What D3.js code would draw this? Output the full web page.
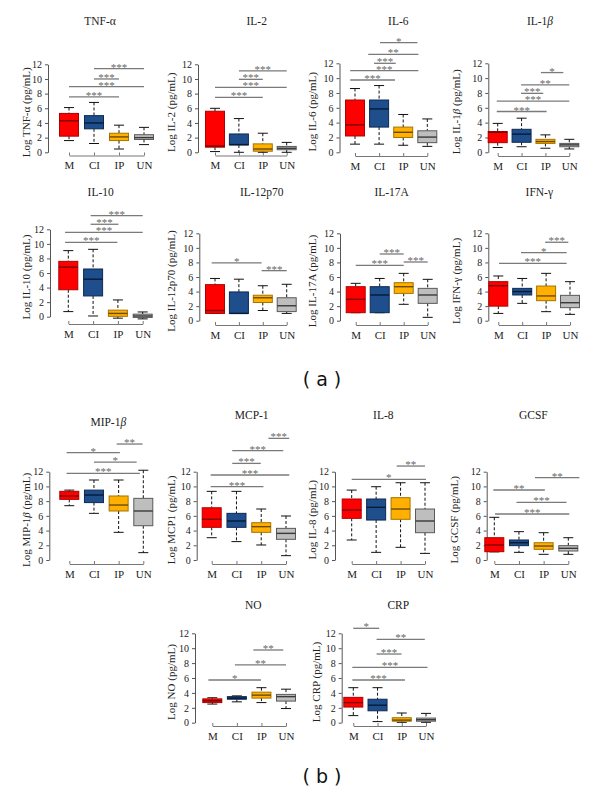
<!DOCTYPE html>
<html><head><meta charset="utf-8">
<script src="https://cdn.jsdelivr.net/npm/d3@7"></script>
<style>body{margin:0;background:#fff}</style>
</head><body><svg id="c" width="600" height="794"></svg>
<script>
// ---------------- DATA ----------------
const categories = ["M", "CI", "IP", "UN"];
const yTicks = [0, 2, 4, 6, 8, 10, 12];
const titles = ["TNF-α", "IL-2", "IL-6", "IL-1β", "IL-10", "IL-12p70", "IL-17A", "IFN-γ",
  "MIP-1β", "MCP-1", "IL-8", "GCSF", "NO", "CRP"];
const yLabels = ["Log TNF-α (pg/mL)", "Log IL-2 (pg/mL)", "Log IL-6 (pg/mL)", "Log IL-1β (pg/mL)",
  "Log IL-10 (pg/mL)", "Log IL-12p70 (pg/mL)", "Log IL-17A (pg/mL)", "Log IFN-γ (pg/mL)",
  "Log MIP-1β (pg/mL)", "Log MCP1 (pg/mL)", "Log IL-8 (pg/mL)", "Log GCSF (pg/mL)",
  "Log NO (pg/mL)", "Log CRP (pg/mL)"];
// [min, q1, median, q3, max] per group M, CI, IP, UN
const boxStats = [
  [[1.6,2.2,4.3,5.3,6.1],[1.2,3.2,4.0,5.0,6.8],[0.45,1.6,2.1,2.6,3.7],[1.05,1.75,2.0,2.4,3.4]],
  [[0.1,0.7,0.85,5.6,6.0],[0.0,1.0,1.05,2.5,4.6],[0.0,0.15,0.45,1.15,2.6],[0.0,0.35,0.55,0.8,1.35]],
  [[1.1,2.2,3.7,7.05,8.6],[1.1,3.4,5.85,7.05,9.0],[0.95,2.0,2.7,3.4,5.1],[0.8,1.3,2.05,2.9,4.5]],
  [[0.65,1.3,2.7,2.8,3.9],[0.75,1.35,2.45,3.1,4.6],[0.55,1.2,1.45,1.75,2.35],[0.45,0.75,1.0,1.2,1.75]],
  [[0.7,3.7,6.8,7.6,9.07],[0.1,2.85,5.15,6.55,9.25],[-0.2,0.05,0.45,0.9,2.3],[-0.3,-0.1,0.1,0.35,0.65]],
  [[1.0,1.0,1.4,4.95,5.8],[1.0,1.0,1.0,3.95,5.7],[1.4,2.5,3.15,3.5,4.8],[1.0,1.25,2.05,3.15,5.0]],
  [[1.1,1.1,2.93,4.67,5.13],[1.1,1.1,3.53,4.67,5.8],[2.25,3.75,4.67,5.22,6.5],[0.46,2.38,3.53,4.44,5.68]],
  [[1.0,2.0,4.8,5.36,6.14],[2.38,3.53,4.0,4.44,5.8],[1.24,2.75,3.4,4.76,6.5],[0.87,1.79,2.47,3.48,5.36]],
  [[7.38,8.24,8.7,9.33,9.5],[6.34,7.8,8.83,9.5,10.87],[3.76,6.66,7.47,8.7,10.87],[1.0,4.66,6.66,8.38,12.2]],
  [[3.03,4.44,5.53,7.1,9.33],[2.5,4.44,5.3,6.34,9.33],[2.04,3.76,4.53,5.07,6.93],[0.59,2.81,3.62,4.3,5.98]],
  [[2.72,5.66,6.79,8.29,9.5],[1.04,5.43,7.16,8.29,9.96],[1.72,5.53,6.93,8.47,10.5],[0.9,3.71,5.3,6.93,10.5]],
  [[1.1,1.13,2.04,3.03,5.8],[1.04,1.95,2.35,2.72,3.85],[0.77,1.45,1.9,2.35,3.71],[0.77,1.22,1.59,1.95,3.03]],
  [[2.5,2.7,2.95,3.2,3.35],[2.8,3.15,3.3,3.5,3.6],[2.7,3.3,3.7,4.1,4.7],[1.9,2.9,3.5,3.8,4.5]],
  [[0.95,2.1,2.7,3.4,4.7],[0.15,1.6,2.35,3.15,4.7],[0.05,0.2,0.35,0.67,1.3],[0.05,0.2,0.4,0.62,1.25]]
];
// significance bars: [from group index, to group index, value, label]
const sigBars = [
  [[1,3,11.4,"***"],[1,2,10.0,"***"],[0,3,8.95,"***"],[0,2,7.55,"***"]],
  [[1,3,11.1,"***"],[1,2,9.95,"***"],[0,3,8.85,"***"],[0,2,7.5,"***"]],
  [[1.04,2.59,14.8,"*"],[0.55,2.63,13.2,"**"],[0.79,1.69,12.0,"***"],[-0.2,2.63,11.0,"***"],[-0.2,1.66,9.75,"***"]],
  [[1.81,2.75,10.75,"*"],[0.98,3.0,9.1,"**"],[0.98,1.91,7.95,"***"],[-0.04,3.0,6.9,"***"],[-0.04,2.05,5.5,"***"]],
  [[0.9,3.0,13.88,"***"],[0.9,2.02,12.69,"***"],[-0.13,3.0,11.59,"***"],[-0.13,1.98,10.2,"***"]],
  [[-0.14,1.95,7.95,"*"],[1.95,3.0,6.87,"***"]],
  [[1,2,9.16,"***"],[0,2,7.6,"***"],[2,3,8.06,"***"]],
  [[1.96,2.93,10.77,"***"],[0.95,2.86,9.35,"*"],[0.03,2.86,7.88,"***"]],
  [[1.92,2.97,15.76,"**"],[-0.11,2.05,14.58,"*"],[1.0,2.73,13.3,"*"],[-0.11,2.86,11.78,"***"]],
  [[2.29,3.13,16.53,"***"],[0.83,2.89,14.86,"***"],[0.83,1.98,13.13,"***"],[-0.04,3.13,11.55,"***"],[-0.04,2.09,9.96,"***"]],
  [[1.84,3.0,12.77,"**"],[0,3.04,10.96,"*"]],
  [[1.65,3.45,11.19,"**"],[-0.04,2.05,9.51,"**"],[0.9,2.93,7.83,"***"],[0.03,3.04,6.25,"***"]],
  [[1.67,2.89,9.76,"**"],[0.92,3.0,7.75,"**"],[-0.16,1.98,5.73,"*"]],
  [[0,1.07,12.67,"*"],[0.96,2.95,11.19,"**"],[0.96,1.99,9.22,"***"],[-0.04,3.06,7.43,"***"],[-0.04,2.13,5.73,"***"]]
];
const panelLetters = ["( a )", "( b )"];

// ---------------- LAYOUT / STYLE ----------------
const layout = [
  {ax:48, c0:69, c3:144, y12:64.3, y0:152.3, xa:155.5, tx:100, ty:25, lx:30},
  {ax:198, c0:215, c3:286.7, y12:64.3, y0:152.3, xa:155.5, tx:256.7, ty:25, lx:175},
  {ax:339.5, c0:355, c3:427.3, y12:63.3, y0:152.3, xa:156, tx:398.3, ty:25, lx:316},
  {ax:488.3, c0:497.7, c3:569.3, y12:63.3, y0:152.3, xa:156, tx:540, ty:25, lx:460},
  {ax:50, c0:68.3, c3:142.7, y12:229.3, y0:316.7, xa:324, tx:100.7, ty:196, lx:30},
  {ax:199.3, c0:215, c3:286.7, y12:233.3, y0:320.7, xa:325, tx:261.7, ty:196, lx:175},
  {ax:340, c0:355.7, c3:427.7, y12:233.3, y0:320.7, xa:325, tx:391.7, ty:196, lx:316},
  {ax:488.3, c0:498.3, c3:570, y12:233.3, y0:320.7, xa:325, tx:539.3, ty:196, lx:460},
  {ax:49.3, c0:69.3, c3:143.3, y12:471.7, y0:560, xa:564, tx:108.3, ty:426, lx:30},
  {ax:196.7, c0:211.7, c3:286, y12:471.7, y0:560, xa:564, tx:251.7, ty:419.3, lx:175},
  {ax:335, c0:351.7, c3:425, y12:471.7, y0:560, xa:564, tx:383.3, ty:419.3, lx:316},
  {ax:486.7, c0:494.3, c3:568.3, y12:471.7, y0:560, xa:564, tx:533.3, ty:419.3, lx:458},
  {ax:195, c0:212.3, c3:286, y12:633.3, y0:722.7, xa:726, tx:253.3, ty:609.3, lx:175},
  {ax:341.7, c0:353.3, c3:426, y12:633.3, y0:722.7, xa:726, tx:398.3, ty:609.3, lx:320}
];
const letterPos = [{x:322, y:385.5}, {x:322, y:783}];
const fills = {M:"#FF0000", CI:"#1F4E8C", IP:"#FFB000", UN:"#BEBEBE"};
const strokes = {M:"#B00000", CI:"#0E2A52", IP:"#A67300", UN:"#5A5A5A"};
const medians = {M:"#7A0000", CI:"#081A36", IP:"#6E4A00", UN:"#3A3A3A"};
const SERIF = "'Liberation Serif','Times New Roman',serif";
const BOXW = 19, CAPW = 10;

const svg = d3.select("#c");

function addText(sel, str, italicChars) {
  const parts = str.split(/([βα])/);
  parts.forEach(p => {
    if (!p) return;
    const t = sel.append("tspan").text(p);
    if (italicChars.includes(p)) t.attr("font-style", "italic");
  });
}

boxStats.forEach((stats, i) => {
  const L = layout[i];
  const g = svg.append("g");
  const y = d3.scaleLinear().domain([0, 12]).range([L.y0, L.y12]);
  const x = d3.scalePoint().domain(categories).range([L.c0, L.c3]);
  const xi = d3.scaleLinear().domain([0, 3]).range([L.c0, L.c3]);

  // title
  const tt = g.append("text").attr("x", L.tx).attr("y", L.ty)
    .attr("text-anchor", "middle").attr("font-family", SERIF).attr("font-size", 11.5).attr("fill", "#222");
  addText(tt, titles[i], ["β"]);

  // y label
  const yl = g.append("text")
    .attr("transform", `translate(${L.lx},${(L.y0 + L.y12) / 2 + 4}) rotate(-90)`)
    .attr("text-anchor", "middle").attr("font-family", SERIF).attr("font-size", 11).attr("fill", "#222");
  addText(yl, yLabels[i], ["β"]);

  // y axis
  const ya = g.append("g").attr("transform", `translate(${L.ax},0)`)
    .call(d3.axisLeft(y).tickValues(yTicks).tickSize(3).tickSizeOuter(0).tickPadding(3));
  ya.select(".domain").attr("stroke", "#555");
  ya.selectAll(".tick line").attr("stroke", "#555");
  ya.selectAll(".tick text").attr("font-family", SERIF).attr("font-size", 10).attr("fill", "#222");

  // x axis
  const xa = g.append("g").attr("transform", `translate(0,${L.xa})`)
    .call(d3.axisBottom(x).tickSize(-3).tickSizeOuter(0).tickPadding(6));
  xa.select(".domain").attr("stroke", "#777");
  xa.selectAll(".tick line").attr("stroke", "#777");
  xa.selectAll(".tick text").attr("font-family", SERIF).attr("font-size", 11).attr("fill", "#222");

  // boxes
  stats.forEach((s, j) => {
    const c = categories[j];
    const cx = x(c);
    const [mn, q1, md, q3, mx] = s;
    const bg = g.append("g");
    bg.append("line").attr("x1", cx).attr("x2", cx).attr("y1", y(mx)).attr("y2", y(q3))
      .attr("stroke", "#111").attr("stroke-width", 1).attr("stroke-dasharray", "3,2");
    bg.append("line").attr("x1", cx).attr("x2", cx).attr("y1", y(q1)).attr("y2", y(mn))
      .attr("stroke", "#111").attr("stroke-width", 1).attr("stroke-dasharray", "3,2");
    [mn, mx].forEach(v => bg.append("line").attr("x1", cx - CAPW / 2).attr("x2", cx + CAPW / 2)
      .attr("y1", y(v)).attr("y2", y(v)).attr("stroke", "#111").attr("stroke-width", 1));
    bg.append("rect").attr("x", cx - BOXW / 2).attr("y", y(q3)).attr("width", BOXW)
      .attr("height", Math.max(0.5, y(q1) - y(q3)))
      .attr("fill", fills[c]).attr("stroke", strokes[c]).attr("stroke-width", 1);
    bg.append("line").attr("x1", cx - BOXW / 2).attr("x2", cx + BOXW / 2)
      .attr("y1", y(md)).attr("y2", y(md)).attr("stroke", medians[c]).attr("stroke-width", 1.4);
  });

  // significance bars
  sigBars[i].forEach(b => {
    const [a, e, v, lab] = b;
    g.append("line").attr("x1", xi(a)).attr("x2", xi(e)).attr("y1", y(v)).attr("y2", y(v))
      .attr("stroke", "#7a7a7a").attr("stroke-width", 1.3);
    g.append("text").attr("x", (xi(a) + xi(e)) / 2).attr("y", y(v) + 2)
      .attr("text-anchor", "middle").attr("font-family", SERIF).attr("font-size", 11)
      .attr("fill", "#666").text(lab);
  });
});

panelLetters.forEach((t, k) => {
  svg.append("text").attr("x", letterPos[k].x).attr("y", letterPos[k].y)
    .attr("text-anchor", "middle").attr("font-family", "'DejaVu Sans',sans-serif")
    .attr("font-size", 19).attr("fill", "#111").text(t);
});
</script>
</body></html>
